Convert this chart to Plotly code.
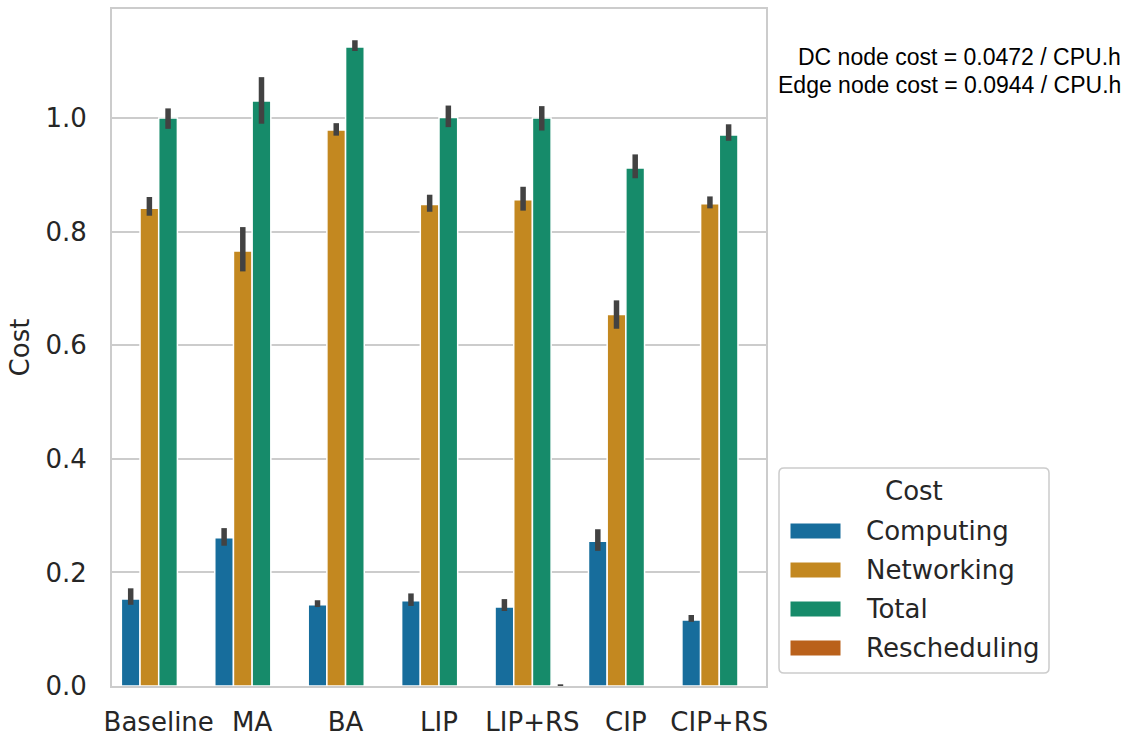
import plotly.graph_objects as go

# Mean cost per placement strategy, with 95% CI bounds
strategies = ["Baseline", "MA", "BA", "LIP", "LIP+RS", "CIP", "CIP+RS"]

computing = [0.153, 0.261, 0.143, 0.150, 0.139, 0.255, 0.116]
computing_lo = [0.143, 0.247, 0.139, 0.141, 0.132, 0.238, 0.113]
computing_hi = [0.172, 0.278, 0.151, 0.163, 0.153, 0.276, 0.125]

networking = [0.841, 0.766, 0.979, 0.848, 0.856, 0.654, 0.849]
networking_lo = [0.828, 0.730, 0.969, 0.835, 0.837, 0.629, 0.841]
networking_hi = [0.861, 0.808, 0.991, 0.865, 0.879, 0.679, 0.862]

total = [1.000, 1.030, 1.125, 1.001, 1.000, 0.912, 0.970]
total_lo = [0.981, 0.990, 1.118, 0.984, 0.978, 0.894, 0.960]
total_hi = [1.017, 1.072, 1.137, 1.022, 1.021, 0.936, 0.989]

rescheduling = [None, None, None, None, 0.001, None, None]
rescheduling_lo = [None, None, None, None, 0.000, None, None]
rescheduling_hi = [None, None, None, None, 0.003, None, None]

series_names = ["Computing", "Networking", "Total", "Rescheduling"]
series_colors = ["#176d9c", "#c38820", "#168b6a", "#ba611b"]

series = [
    (computing, computing_lo, computing_hi),
    (networking, networking_lo, networking_hi),
    (total, total_lo, total_hi),
    (rescheduling, rescheduling_lo, rescheduling_hi),
]

annotation_lines = ["DC node cost = 0.0472 / CPU.h", "Edge node cost = 0.0944 / CPU.h"]

TEXT = "#262626"
GRID = "#cccccc"
FONT = "DejaVu Sans"
FS = 26

W, H = 1131, 736
L, R, T, B = 112, 766, 9, 686  # plot area in pixels


def px_x(p):
    return (p - L) / (R - L)


def px_y(p):
    return (B - p) / (B - T)


fig = go.Figure()
for name, color, (vals, lo, hi) in zip(series_names, series_colors, series):
    plus = [None if v is None else h - v for v, h in zip(vals, hi)]
    minus = [None if v is None else v - l for v, l in zip(vals, lo)]
    fig.add_trace(go.Bar(
        name=name,
        x=strategies,
        y=vals,
        marker=dict(color=color, line=dict(color="white", width=1.5)),
        error_y=dict(type="data", symmetric=False, array=plus, arrayminus=minus,
                     color="#424242", thickness=5.5, width=0),
        showlegend=False,
    ))

fig.update_layout(
    width=W, height=H,
    margin=dict(l=L, r=W - R, t=T, b=H - B, pad=0),
    paper_bgcolor="white", plot_bgcolor="white",
    barmode="group", bargap=0.2, bargroupgap=0,
    font=dict(family=FONT, size=FS, color=TEXT),
)
fig.update_xaxes(
    automargin=False,
    showgrid=False, showline=True, mirror=True, linecolor=GRID, linewidth=2,
    ticks="", tickfont=dict(size=FS, color=TEXT), ticklabelstandoff=12,
)
fig.update_yaxes(
    automargin=False,
    range=[0, 1.192], tickvals=[0, 0.2, 0.4, 0.6, 0.8, 1.0], tickformat=".1f",
    showgrid=True, gridcolor=GRID, gridwidth=2, zeroline=False,
    showline=True, mirror=True, linecolor=GRID, linewidth=2,
    ticks="", tickfont=dict(size=FS, color=TEXT), ticklabelstandoff=18,
    title=dict(text="Cost", font=dict(size=FS, color=TEXT), standoff=8),
)

# Cost rates, top right
for text, yc in zip(annotation_lines, [57, 85]):
    fig.add_annotation(
        x=px_x(1123), y=px_y(yc), xref="paper", yref="paper",
        xanchor="right", yanchor="middle", showarrow=False, text=text,
        font=dict(family="Liberation Sans", size=23, color="black"),
    )

# Legend box with rounded corners
x0, x1, y0, y1 = 779, 1049, 468, 673
r = 5
path = (
    f"M {px_x(x0 + r)} {px_y(y0)} L {px_x(x1 - r)} {px_y(y0)} "
    f"Q {px_x(x1)} {px_y(y0)} {px_x(x1)} {px_y(y0 + r)} "
    f"L {px_x(x1)} {px_y(y1 - r)} Q {px_x(x1)} {px_y(y1)} {px_x(x1 - r)} {px_y(y1)} "
    f"L {px_x(x0 + r)} {px_y(y1)} Q {px_x(x0)} {px_y(y1)} {px_x(x0)} {px_y(y1 - r)} "
    f"L {px_x(x0)} {px_y(y0 + r)} Q {px_x(x0)} {px_y(y0)} {px_x(x0 + r)} {px_y(y0)} Z"
)
fig.add_shape(type="path", path=path, xref="paper", yref="paper",
              line=dict(color=GRID, width=1.5), fillcolor="white", layer="above")
fig.add_annotation(x=px_x(914), y=px_y(491), xref="paper", yref="paper",
                   xanchor="center", yanchor="middle", showarrow=False, text="Cost",
                   font=dict(family=FONT, size=FS, color=TEXT))
for i, (name, color) in enumerate(zip(series_names, series_colors)):
    yc = 531 + i * 39
    fig.add_shape(type="rect", xref="paper", yref="paper",
                  x0=px_x(790), x1=px_x(841), y0=px_y(yc - 8), y1=px_y(yc + 8),
                  fillcolor=color, line=dict(color="white", width=1), layer="above")
    fig.add_annotation(x=px_x(864), y=px_y(yc), xref="paper", yref="paper",
                       xanchor="left", yanchor="middle", showarrow=False, text=name,
                       font=dict(family=FONT, size=FS, color=TEXT))

fig.write_html("out.html")
